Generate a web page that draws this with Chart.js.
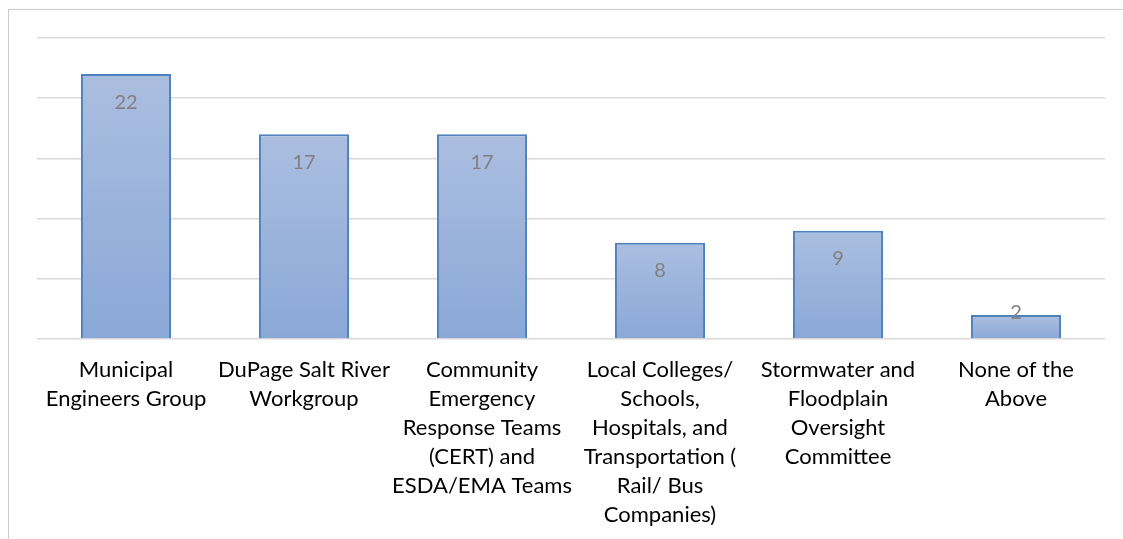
<!DOCTYPE html>
<html>
    <head>
        <style>
            body { margin: 0; background: #fff; }
            #frame { position: absolute; left: 8px; top: 9px; width: 1200px; height: 600px;
                     border-left: 1px solid #cccccc; border-top: 1px solid #cccccc; }
            #wrap { position: absolute; left: 0; top: 0; width: 1123px; height: 539px; }
        </style>
    </head>
    <body>
        <div id="frame"></div>
        <div id="wrap"><canvas id="myChart"></canvas></div>

        <script src="https://cdn.jsdelivr.net/npm/chart.js"></script>
        <script>
            const categories = [
                ['Municipal', 'Engineers Group'],
                ['DuPage Salt River', 'Workgroup'],
                ['Community', 'Emergency', 'Response Teams', '(CERT) and', 'ESDA/EMA Teams'],
                ['Local Colleges/', 'Schools,', 'Hospitals, and', 'Transportation (', 'Rail/ Bus', 'Companies)'],
                ['Stormwater and', 'Floodplain', 'Oversight', 'Committee'],
                ['None of the', 'Above']
            ];
            const counts = [22, 17, 17, 8, 9, 2];
            const yTicks = [0, 5, 10, 15, 20, 25];

            function barFill(context) {
                const chart = context.chart;
                const y = chart.scales.y;
                if (!chart.chartArea || !y) return '#9db4dc';
                const v = context.raw;
                const top = y.getPixelForValue(v);
                const base = y.getPixelForValue(0);
                if (!isFinite(top) || !isFinite(base) || top === base) return '#9db4dc';
                const g = chart.ctx.createLinearGradient(0, top, 0, base);
                g.addColorStop(0, '#abbee0');
                g.addColorStop(1, '#8aa8d7');
                return g;
            }

            const valueLabels = {
                id: 'valueLabels',
                afterDatasetsDraw(chart) {
                    const ctx = chart.ctx;
                    const meta = chart.getDatasetMeta(0);
                    ctx.save();
                    ctx.font = '20px Lato';
                    ctx.fillStyle = '#808080';
                    ctx.textAlign = 'center';
                    ctx.textBaseline = 'middle';
                    meta.data.forEach(function (bar, i) {
                        const ly = Math.min(bar.y + 28, bar.base - 26);
                        ctx.fillText(String(counts[i]), bar.x, ly);
                    });
                    ctx.restore();
                }
            };

            const ctx = document.getElementById('myChart');
            const data = {
                labels: categories,
                datasets: [{
                    data: counts,
                    backgroundColor: barFill,
                    borderColor: '#4f81bd',
                    borderWidth: 2,
                    borderSkipped: 'bottom',
                    barPercentage: 0.506,
                    categoryPercentage: 1.0
                }]
            };

            new Chart(ctx, {
                type: 'bar',
                data: data,
                plugins: [valueLabels],
                options: {
                    responsive: true,
                    maintainAspectRatio: false,
                    animation: false,
                    layout: { padding: { left: 37, right: 18, top: 38, bottom: 10 } },
                    plugins: { legend: { display: false }, tooltip: { enabled: false } },
                    scales: {
                        x: {
                            afterFit(scale) { scale.height = 190; },
                            grid: { display: false, drawTicks: false },
                            border: { display: false },
                            ticks: {
                                color: '#000000',
                                padding: 16,
                                autoSkip: false,
                                maxRotation: 0,
                                font: { family: 'Lato', size: 22, lineHeight: '29px' }
                            }
                        },
                        y: {
                            min: 0,
                            max: 25,
                            afterBuildTicks(scale) {
                                scale.ticks = yTicks.map(function (v) { return { value: v }; });
                            },
                            grid: { color: '#d9d9d9', lineWidth: 1.5, drawTicks: false },
                            border: { display: false },
                            ticks: { display: false }
                        }
                    }
                }
            });
        </script>
    </body>
</html>
